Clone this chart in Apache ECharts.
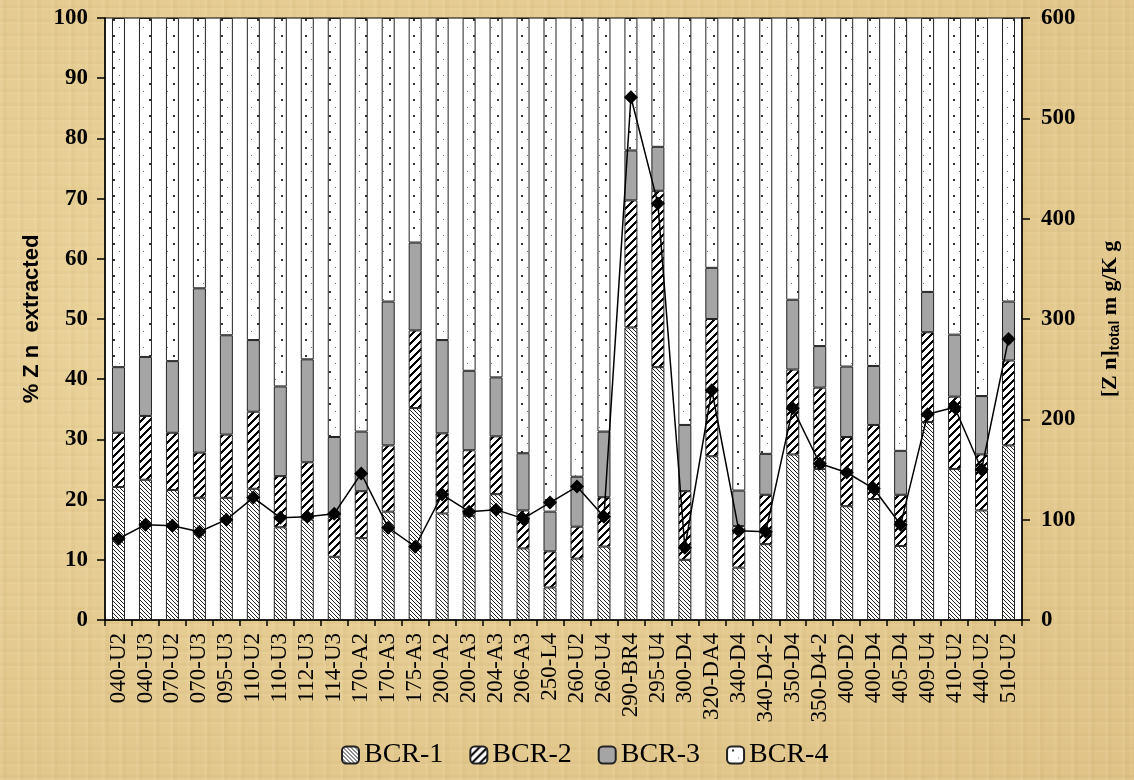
<!DOCTYPE html>
<html><head><meta charset="utf-8">
<script src="https://cdn.jsdelivr.net/npm/echarts@6/dist/echarts.min.js"></script>
<style>
html,body{margin:0;padding:0;width:1134px;height:780px;overflow:hidden;}
body{
  background-color:#e3c98f;
  background-image:
    repeating-linear-gradient(90deg, rgba(255,245,210,0.08) 0px, rgba(255,245,210,0.08) 3px, rgba(150,110,40,0.04) 3px, rgba(150,110,40,0.04) 7px, rgba(255,240,200,0.0) 7px, rgba(255,240,200,0.0) 17px),
    repeating-linear-gradient(0deg, rgba(255,245,210,0.07) 0px, rgba(255,245,210,0.07) 2px, rgba(140,100,40,0.04) 2px, rgba(140,100,40,0.04) 5px, rgba(255,240,200,0.0) 5px, rgba(255,240,200,0.0) 14px),
    radial-gradient(ellipse at 30% 40%, rgba(245,225,170,0.5), rgba(210,175,110,0.25));
}
#c{width:1134px;height:780px;}
</style></head><body><div id="c"></div>
<script>
const categories = ['040-U2','040-U3','070-U2','070-U3','095-U3','110-U2','110-U3','112-U3','114-U3','170-A2','170-A3','175-A3','200-A2','200-A3','204-A3','206-A3','250-L4','260-U2','260-U4','290-BR4','295-U4','300-D4','320-DA4','340-D4','340-D4-2','350-D4','350-D4-2','400-D2','400-D4','405-D4','409-U4','410-U2','440-U2','510-U2'];
const bcr1 = [22.1,23.3,21.6,20.3,20.3,21.8,15.4,16.7,10.5,13.6,18.0,35.2,17.7,17.3,20.9,11.9,5.4,10.2,12.2,48.6,42.0,10.0,27.2,8.7,12.6,27.5,25.1,18.9,20.1,12.3,32.9,25.1,18.2,29.0];
const bcr2 = [9.0,10.6,9.5,7.5,10.5,12.8,8.5,9.5,6.6,7.8,11.0,12.9,13.3,10.9,9.6,6.3,6.0,5.3,8.2,21.1,29.3,11.4,22.8,6.9,8.2,14.1,13.5,11.5,12.3,8.5,14.9,12.0,9.3,14.1];
const bcr3 = [10.9,9.8,11.9,27.3,16.5,11.9,14.9,17.1,13.3,9.9,23.9,14.6,15.5,13.2,9.8,9.5,6.6,8.3,10.9,8.3,7.3,11.0,8.5,5.9,6.8,11.6,6.9,11.7,9.8,7.3,6.7,10.3,9.7,9.8];
const bcr4 = [58.0,56.3,57.0,44.9,52.7,53.5,61.2,56.7,69.6,68.7,47.1,37.3,53.5,58.6,59.7,72.3,82.0,76.2,68.7,22.0,21.4,67.6,41.5,78.5,72.4,46.8,54.5,57.9,57.8,71.9,45.5,52.6,62.8,47.1];
const znTotal = [81,95,94,88,100,122,102,103,106,146,92,73,125,108,110,101,117,133,103,521,415,72,229,89,88,211,156,147,131,95,205,212,150,280];
const seriesNames = ['BCR-1','BCR-2','BCR-3','BCR-4'];

function makePattern(w, h, fn) {
  const cv = document.createElement('canvas');
  cv.width = w; cv.height = h;
  const ctx = cv.getContext('2d');
  ctx.fillStyle = '#ffffff';
  ctx.fillRect(0, 0, w, h);
  fn(ctx, w, h);
  return cv;
}
const pat1 = makePattern(4, 4, (ctx) => {
  ctx.fillStyle = '#222';
  for (let y = 0; y < 4; y++) for (let x = 0; x < 4; x++) {
    if (((x - y) % 4 + 4) % 4 === 0) ctx.fillRect(x, y, 1, 1);
  }
});
const pat2 = makePattern(8, 8, (ctx) => {
  ctx.fillStyle = '#000';
  for (let y = 0; y < 8; y++) for (let x = 0; x < 8; x++) {
    if ((x + y) % 8 < 3) ctx.fillRect(x, y, 1, 1);
  }
});
const pat4 = makePattern(12, 16, (ctx) => {
  ctx.fillStyle = '#333';
  ctx.fillRect(5, 3, 2, 2);
  ctx.fillStyle = '#777';
  ctx.fillRect(11, 11, 1, 1);
});
const fills = [
  {image: pat1, repeat: 'repeat'},
  {image: pat2, repeat: 'repeat'},
  '#a5a5a5',
  {image: pat4, repeat: 'repeat'}
];
const dataSets = [bcr1, bcr2, bcr3, bcr4];

const serif = '"Liberation Serif", "Times New Roman", serif';
const narrow = '"Liberation Sans Narrow", "Liberation Sans", sans-serif';
const chart = echarts.init(document.getElementById('c'));
const barSeries = seriesNames.map((n, i) => ({
  name: n, type: 'bar', stack: 'total', barWidth: 13,
  data: dataSets[i],
  itemStyle: {color: fills[i], borderColor: '#222', borderWidth: 1},
  emphasis: {disabled: true}
}));
chart.setOption({
  animation: false,
  backgroundColor: 'transparent',
  grid: {left: 105, right: 112, top: 18, bottom: 160, show: true, backgroundColor: '#ffffff', borderColor: '#000', borderWidth: 1},
  legend: {
    data: seriesNames, left: 336, bottom: 6, itemWidth: 17, itemHeight: 17, itemGap: 26,
    textStyle: {fontFamily: serif, fontSize: 28, color: '#000'}
  },
  xAxis: {
    type: 'category', data: categories, boundaryGap: true,
    axisLine: {lineStyle: {color: '#000', width: 1.5}},
    axisTick: {show: true, length: 6, lineStyle: {color: '#000', width: 1.5}, alignWithLabel: false},
    axisLabel: {rotate: 90, interval: 0, fontFamily: serif, fontSize: 23, color: '#000', margin: 13}
  },
  yAxis: [
    {type: 'value', min: 0, max: 100, interval: 10, position: 'left',
     name: '% Z n  extracted', nameLocation: 'middle', nameGap: 62, nameRotate: 90,
     nameTextStyle: {fontFamily: narrow, fontWeight: 'bold', fontSize: 22, color: '#000'},
     axisLine: {show: true, lineStyle: {color: '#000', width: 1.5}},
     axisTick: {show: true, length: 8, lineStyle: {color: '#000', width: 1.5}},
     axisLabel: {fontFamily: serif, fontWeight: 'bold', fontSize: 23, color: '#000', margin: 17},
     splitLine: {show: false}},
    {type: 'value', min: 0, max: 600, interval: 100, position: 'right',
     name: '{m|[Z n]}{s|total}{m| m g/K g}', nameLocation: 'middle', nameGap: 76, nameRotate: 90,
     nameTextStyle: {fontFamily: serif, fontWeight: 'bold', color: '#000',
       rich: {m: {fontFamily: serif, fontWeight: 'bold', fontSize: 22, color: '#000'},
              s: {fontFamily: narrow, fontWeight: 'bold', fontSize: 14, color: '#000', padding: [10, 0, 0, 0]}}},
     axisLine: {show: true, lineStyle: {color: '#000', width: 1.5}},
     axisTick: {show: true, length: 8, lineStyle: {color: '#000', width: 1.5}},
     axisLabel: {fontFamily: serif, fontWeight: 'bold', fontSize: 23, color: '#000', margin: 19},
     splitLine: {show: false}}
  ],
  series: barSeries.concat([{
    name: 'Zn total', type: 'line', yAxisIndex: 1, data: znTotal,
    symbol: 'diamond', symbolSize: 14, z: 10,
    lineStyle: {color: '#000', width: 1.5},
    itemStyle: {color: '#000'},
    emphasis: {disabled: true}
  }])
});
</script></body></html>
